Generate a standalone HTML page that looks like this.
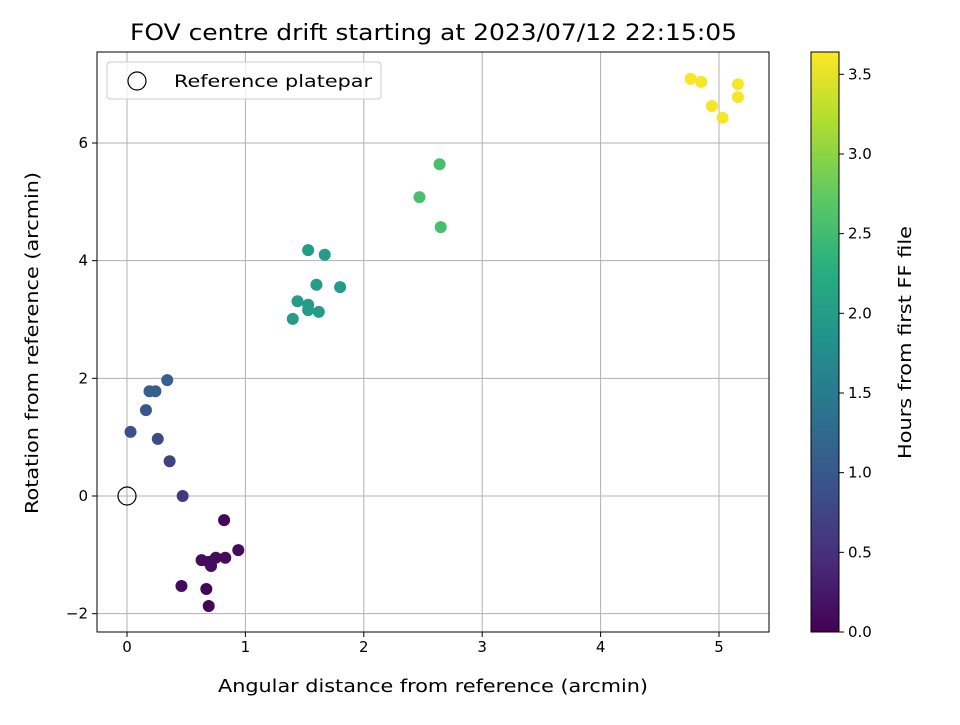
<!DOCTYPE html>
<html><head><meta charset="utf-8"><style>
body{margin:0;background:#fff;font-family:"Liberation Sans","DejaVu Sans",sans-serif;}
svg text{font-family:"DejaVu Sans","Liberation Sans",sans-serif;}
</style></head><body>
<svg id="c" width="960" height="720" viewBox="0 0 960 720" xmlns="http://www.w3.org/2000/svg">
<defs><linearGradient id="vir" x1="0" y1="1" x2="0" y2="0">
<stop offset="0" stop-color="#440154"/><stop offset="0.125" stop-color="#472d7b"/><stop offset="0.25" stop-color="#3b528b"/><stop offset="0.375" stop-color="#2c728e"/><stop offset="0.5" stop-color="#21918c"/><stop offset="0.625" stop-color="#28ae80"/><stop offset="0.75" stop-color="#5ec962"/><stop offset="0.875" stop-color="#addc30"/><stop offset="1" stop-color="#fde725"/>
</linearGradient></defs>
</svg>
<script>
const xs=[4.76,4.85,5.16,4.94,5.03,5.16, 2.64,2.47,2.65, 1.53,1.67,1.60,1.80,1.44,1.53,1.53,1.62,1.40, 0.34,0.19,0.24,0.16,0.03,0.26,0.36,0.47, 0.82,0.94,0.63,0.75,0.83,0.69,0.71,0.46,0.67,0.69];
const ys=[7.09,7.04,7.00,6.63,6.43,6.78, 5.64,5.08,4.57, 4.18,4.10,3.59,3.55,3.31,3.25,3.16,3.13,3.01, 1.97,1.78,1.78,1.46,1.09,0.97,0.59,0.0, -0.41,-0.92,-1.09,-1.05,-1.05,-1.12,-1.19,-1.53,-1.58,-1.87];
const hours=[3.6,3.6,3.6,3.6,3.6,3.6, 2.55,2.55,2.55, 2.0,2.0,2.0,2.0,2.0,2.0,2.0,2.0,2.0, 1.1,1.1,1.1,1.0,0.9,0.8,0.7,0.6, 0.05,0.1,0.1,0.1,0.1,0.1,0.1,0.1,0.05,0.05];
const xTicks=[0,1,2,3,4,5];
const yTicks=[-2,0,2,4,6];
const cTicks=[0,0.5,1,1.5,2,2.5,3,3.5];
const NS="http://www.w3.org/2000/svg";
const svg=document.getElementById('c');
const L=97,R=769,T=52,B=632;
const X=v=>127+v*118.4, Y=v=>496-v*58.83;
const CMAX=3.64, C=v=>632-v*(580/CMAX);
const stops=["#440154","#472d7b","#3b528b","#2c728e","#21918c","#28ae80","#5ec962","#addc30","#fde725"];
function hex(h){return[1,3,5].map(i=>parseInt(h.substr(i,2),16));}
function vir(t){t=Math.max(0,Math.min(1,t));const p=t*8,i=Math.min(7,Math.floor(p)),f=p-i;const a=hex(stops[i]),b=hex(stops[i+1]);return`rgb(${a.map((v,k)=>Math.round(v+(b[k]-v)*f)).join(',')})`;}
function el(tag,attrs,txt){const e=document.createElementNS(NS,tag);for(const k in attrs)e.setAttribute(k,attrs[k]);if(txt!==undefined)e.textContent=txt;svg.appendChild(e);return e;}
let e;
xTicks.forEach(v=>{e=el('line',{x1:X(v),x2:X(v),y1:T,y2:B,stroke:'#b0b0b0','stroke-width':1});


e=el('line',{x1:X(v),x2:X(v),y1:B,y2:B+5,stroke:'#000'});


e=el('text',{x:X(v),y:B+20,'font-size':15,'text-anchor':'middle'},String(v));

});
yTicks.forEach(v=>{e=el('line',{x1:L,x2:R,y1:Y(v),y2:Y(v),stroke:'#b0b0b0','stroke-width':1});


e=el('line',{x1:L-5,x2:L,y1:Y(v),y2:Y(v),stroke:'#000'});


e=el('text',{x:L-9,y:Y(v)+5,'font-size':15,'text-anchor':'end'},v<0?'\u2212'+(-v):String(v));

});
xs.forEach((v,i)=>{e=el('circle',{cx:X(v),cy:Y(ys[i]),r:6,fill:vir(hours[i]/CMAX)});

});
e=el('circle',{cx:X(0),cy:Y(0),r:9,fill:'none',stroke:'#000','stroke-width':1.2});


e=el('rect',{x:L,y:T,width:R-L,height:B-T,fill:'none',stroke:'#000','stroke-width':1});


e=el('rect',{x:107,y:62,width:274,height:37,fill:'#fff','fill-opacity':0.8,stroke:'#ccc',rx:3});


e=el('circle',{cx:137,cy:81,r:9,fill:'none',stroke:'#000','stroke-width':1.2});


e=el('text',{x:174,y:87,'font-size':17,textLength:198,lengthAdjust:'spacingAndGlyphs'},'Reference platepar');


e=el('text',{x:130,y:40,'font-size':22,textLength:607,lengthAdjust:'spacingAndGlyphs'},'FOV centre drift starting at 2023/07/12 22:15:05');


e=el('text',{x:218,y:692,'font-size':18,textLength:430,lengthAdjust:'spacingAndGlyphs'},'Angular distance from reference (arcmin)');


e=el('text',{x:38,y:514,'font-size':18,textLength:342,lengthAdjust:'spacingAndGlyphs',transform:'rotate(-90 38 514)'},'Rotation from reference (arcmin)');


e=el('rect',{x:811,y:52,width:28,height:580,fill:'url(#vir)',stroke:'#000','stroke-width':1});


cTicks.forEach(v=>{e=el('line',{x1:839,x2:844,y1:C(v),y2:C(v),stroke:'#000'});


e=el('text',{x:848,y:C(v)+5,'font-size':15},v.toFixed(1));

});
e=el('text',{x:911,y:459,'font-size':18,textLength:233,lengthAdjust:'spacingAndGlyphs',transform:'rotate(-90 911 459)'},'Hours from first FF file');


</script>
</body></html>
